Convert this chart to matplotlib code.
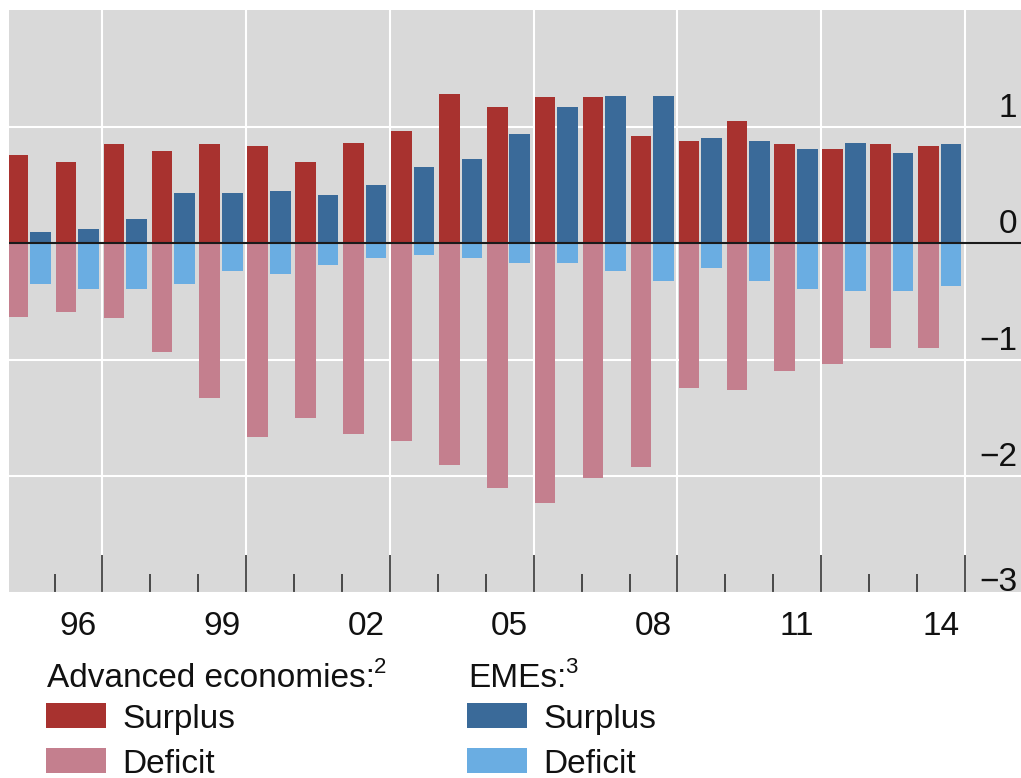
import numpy as np
import matplotlib
matplotlib.use('Agg')
import matplotlib.pyplot as plt
from matplotlib.patches import Rectangle
from matplotlib.transforms import ScaledTranslation

plt.rcParams['font.family'] = ['Liberation Sans', 'DejaVu Sans']

years = list(range(1995, 2015))
adv_surplus = [0.76, 0.70, 0.85, 0.79, 0.85, 0.83, 0.70, 0.86, 0.96, 1.28,
               1.17, 1.25, 1.25, 0.92, 0.88, 1.05, 0.85, 0.81, 0.85, 0.83]
adv_deficit = [-0.63, -0.59, -0.64, -0.93, -1.33, -1.66, -1.50, -1.64, -1.70, -1.90,
               -2.10, -2.23, -2.01, -1.92, -1.24, -1.26, -1.10, -1.04, -0.90, -0.90]
eme_surplus = [0.10, 0.12, 0.21, 0.43, 0.43, 0.45, 0.41, 0.50, 0.65, 0.72,
               0.94, 1.17, 1.26, 1.26, 0.90, 0.88, 0.81, 0.86, 0.77, 0.85]
eme_deficit = [-0.35, -0.39, -0.39, -0.35, -0.24, -0.26, -0.19, -0.13, -0.10, -0.13,
               -0.17, -0.17, -0.24, -0.32, -0.21, -0.32, -0.39, -0.41, -0.41, -0.37]
label_years = [1996, 1999, 2002, 2005, 2008, 2011, 2014]
y_ticks = [-3, -2, -1, 0, 1]

RED = '#A8322F'
PINK = '#C47F8E'
DBLUE = '#3A6A99'
LBLUE = '#6AADE2'
GREY = '#D9D9D9'
INK = '#111111'

W, H = 1021, 778
fig = plt.figure(figsize=(W / 100, H / 100), dpi=100)
ax = fig.add_axes([9 / W, (H - 593) / H, (W - 9) / W, 583 / H])
ax.set_facecolor(GREY)
ax.set_axisbelow(True)

idx = np.arange(len(years))
bw = 0.43
ax.bar(idx + 0.24, adv_surplus, bw, color=RED, lw=0)
ax.bar(idx + 0.24, adv_deficit, bw, color=PINK, lw=0)
ax.bar(idx + 0.71, eme_surplus, bw, color=DBLUE, lw=0)
ax.bar(idx + 0.71, eme_deficit, bw, color=LBLUE, lw=0)
ax.axhline(0, color='#1a1a1a', lw=1.5, zorder=5)

ax.set_xlim(0.05, 21.17)
ax.set_ylim(-3, 2)
for s in ax.spines.values():
    s.set_visible(False)

# year boundary ticks (long every 3 years), labels centred on the years
bounds = np.arange(1, len(years) + 1)
ax.set_xticks([b for b in bounds if (b - 2) % 3 == 0])
ax.set_xticks([b for b in bounds if (b - 2) % 3 != 0], minor=True)
ax.tick_params(axis='x', which='major', direction='in', length=27.5, width=1.1,
               color='#222222', labelbottom=False)
ax.tick_params(axis='x', which='minor', direction='in', length=13.7, width=1.1,
               color='#222222')
ax.grid(axis='x', which='major', color='white', lw=1.5)

sec = ax.secondary_xaxis('bottom')
sec.set_xticks([years.index(y) + 0.5 for y in label_years],
               ['%02d' % (y % 100) for y in label_years])
sec.tick_params(length=0, pad=13, labelsize=24, labelcolor=INK)
for s in sec.spines.values():
    s.set_visible(False)

ax.set_yticks(y_ticks)
ax.tick_params(axis='y', length=0, labelleft=False)
ax.grid(axis='y', color='white', lw=1.5)
for v in y_ticks:
    dy = 2 if v == min(y_ticks) else 10
    off = ScaledTranslation(-4 / 100, dy / 100, fig.dpi_scale_trans)
    ax.text(1.0, v, str(v).replace('-', '\u2212'), transform=ax.get_yaxis_transform() + off,
            ha='right', va='baseline', fontsize=24, color=INK)

# legend
def fx(x):
    return x / W

def fy(y):
    return 1 - y / H

groups = [("Advanced economies:", "2", 46, RED, PINK),
          ("EMEs:", "3", 467, DBLUE, LBLUE)]
for head, sup, x0, c1, c2 in groups:
    t = fig.text(fx(x0 + 1), fy(687), head, fontsize=24, color=INK, va='baseline')
    fig.canvas.draw()
    ax.annotate(sup, xy=(1, 1), xycoords=t, xytext=(-1, 6), textcoords='offset pixels',
                ha='left', va='top', fontsize=16, color=INK, annotation_clip=False)
    for lab, col, yb in [("Surplus", c1, 728), ("Deficit", c2, 773)]:
        fig.add_artist(Rectangle((fx(x0), fy(yb)), 60 / W, 25 / H, transform=fig.transFigure,
                                 facecolor=col, lw=0))
        fig.text(fx(x0 + 76), fy(yb), lab, fontsize=24, color=INK, va='baseline')

fig.savefig('out.png', dpi=100)
